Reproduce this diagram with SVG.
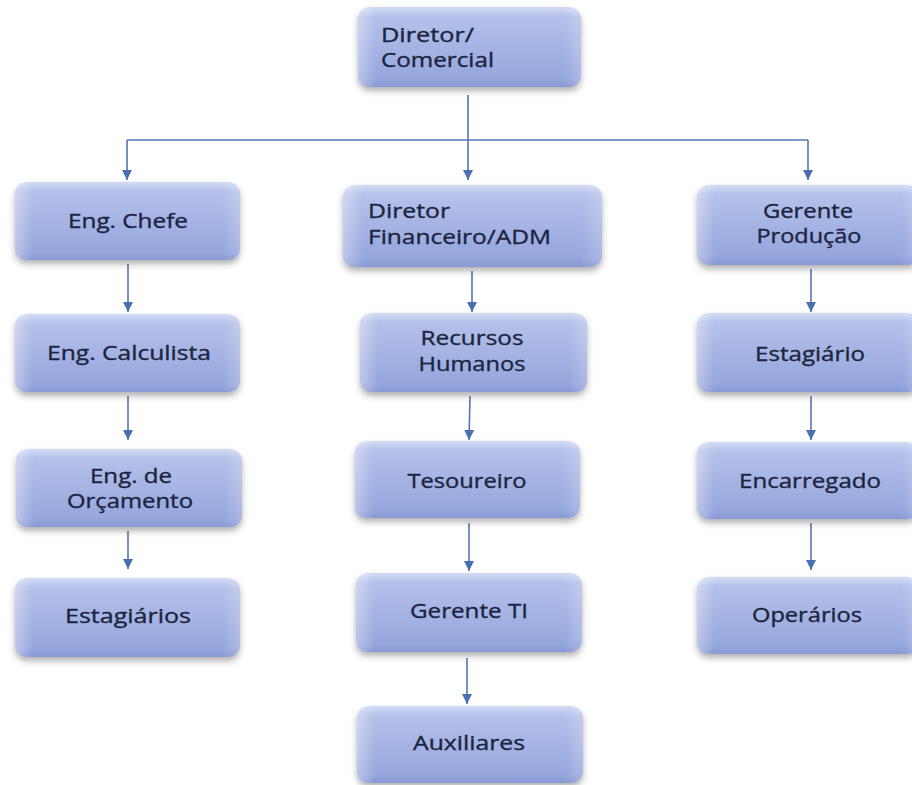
<svg xmlns="http://www.w3.org/2000/svg" width="912" height="785" viewBox="0 0 912 785">
<defs>
  <linearGradient id="gV" x1="0" y1="0" x2="0" y2="1">
    <stop offset="0" stop-color="#d3dbf4"/>
    <stop offset="0.12" stop-color="#b5c1ea"/>
    <stop offset="0.55" stop-color="#a4b2e3"/>
    <stop offset="0.9" stop-color="#95a6dd"/>
    <stop offset="1" stop-color="#8899d4"/>
  </linearGradient>
  <linearGradient id="gH" x1="0" y1="0" x2="1" y2="0">
    <stop offset="0" stop-color="#ffffff" stop-opacity="0.35"/>
    <stop offset="0.08" stop-color="#ffffff" stop-opacity="0"/>
    <stop offset="0.92" stop-color="#ffffff" stop-opacity="0"/>
    <stop offset="1" stop-color="#ffffff" stop-opacity="0.2"/>
  </linearGradient>
  <filter id="sh" x="-10%" y="-10%" width="120%" height="135%">
    <feDropShadow dx="0" dy="4" stdDeviation="3" flood-color="#404040" flood-opacity="0.4"/>
  </filter>
  <marker id="ar" viewBox="0 0 10 10" refX="10" refY="5" markerWidth="10" markerHeight="10" markerUnits="userSpaceOnUse" orient="auto">
    <path d="M0,0 L10,5 L0,10 z" fill="#4a6fb3"/>
  </marker>
</defs>
<style>
  .box { fill: url(#gV); filter: url(#sh); }
  .hl { fill: url(#gH); }
  .t { font-family: "Open Sans", "Noto Sans", sans-serif; font-size: 20px; fill: #1b2440; stroke: #1b2440; stroke-width: 0.35; }
  .c { text-anchor: middle; }
  .ln { fill: none; stroke: #5676b0; stroke-width: 1.6; }
</style>
<rect width="912" height="785" fill="#ffffff"/>

<g id="connectors">
  <path class="ln" d="M468,95 V180" marker-end="url(#ar)"/>
  <path class="ln" d="M127,140 H808"/>
  <path class="ln" d="M127,140 V180" marker-end="url(#ar)"/>
  <path class="ln" d="M808,140 V180" marker-end="url(#ar)"/>
  <path class="ln" d="M128,264 V312" marker-end="url(#ar)"/>
  <path class="ln" d="M128,396 V440" marker-end="url(#ar)"/>
  <path class="ln" d="M128,531 V569" marker-end="url(#ar)"/>
  <path class="ln" d="M472,271 V312" marker-end="url(#ar)"/>
  <path class="ln" d="M470,396 L469,440" marker-end="url(#ar)"/>
  <path class="ln" d="M469,523 V571" marker-end="url(#ar)"/>
  <path class="ln" d="M467,658 V704" marker-end="url(#ar)"/>
  <path class="ln" d="M811,269 V312" marker-end="url(#ar)"/>
  <path class="ln" d="M811,396 V440" marker-end="url(#ar)"/>
  <path class="ln" d="M811,523 V570" marker-end="url(#ar)"/>
</g>

<g id="n-diretor-comercial">
  <rect class="box" x="358" y="7" width="223" height="80" rx="12"/>
  <rect class="hl" x="358" y="7" width="223" height="80" rx="12"/>
  <text class="t" x="381" y="42" textLength="93" lengthAdjust="spacingAndGlyphs">Diretor/</text>
  <text class="t" x="381" y="67" textLength="113" lengthAdjust="spacingAndGlyphs">Comercial</text>
</g>

<g id="n-eng-chefe">
  <rect class="box" x="15" y="182" width="225" height="78" rx="12"/>
  <rect class="hl" x="15" y="182" width="225" height="78" rx="12"/>
  <text class="t c" x="128" y="228" textLength="120" lengthAdjust="spacingAndGlyphs">Eng. Chefe</text>
</g>

<g id="n-diretor-financeiro">
  <rect class="box" x="343" y="185" width="259" height="82" rx="12"/>
  <rect class="hl" x="343" y="185" width="259" height="82" rx="12"/>
  <text class="t" x="368" y="218" textLength="82" lengthAdjust="spacingAndGlyphs">Diretor</text>
  <text class="t" x="368" y="244" textLength="183" lengthAdjust="spacingAndGlyphs">Financeiro/ADM</text>
</g>

<g id="n-gerente-producao">
  <rect class="box" x="697" y="185" width="222" height="80" rx="12"/>
  <rect class="hl" x="697" y="185" width="222" height="80" rx="12"/>
  <text class="t c" x="808" y="218" textLength="90" lengthAdjust="spacingAndGlyphs">Gerente</text>
  <text class="t c" x="809" y="243" textLength="105" lengthAdjust="spacingAndGlyphs">Produção</text>
</g>

<g id="n-eng-calculista">
  <rect class="box" x="15" y="314" width="225" height="78" rx="12"/>
  <rect class="hl" x="15" y="314" width="225" height="78" rx="12"/>
  <text class="t c" x="129" y="360" textLength="164" lengthAdjust="spacingAndGlyphs">Eng. Calculista</text>
</g>

<g id="n-recursos-humanos">
  <rect class="box" x="360" y="313" width="227" height="79" rx="12"/>
  <rect class="hl" x="360" y="313" width="227" height="79" rx="12"/>
  <text class="t c" x="472" y="345" textLength="103" lengthAdjust="spacingAndGlyphs">Recursos</text>
  <text class="t c" x="472" y="371" textLength="107" lengthAdjust="spacingAndGlyphs">Humanos</text>
</g>

<g id="n-estagiario">
  <rect class="box" x="697" y="313" width="222" height="79" rx="12"/>
  <rect class="hl" x="697" y="313" width="222" height="79" rx="12"/>
  <text class="t c" x="810" y="361" textLength="110" lengthAdjust="spacingAndGlyphs">Estagiário</text>
</g>

<g id="n-eng-orcamento">
  <rect class="box" x="16" y="449" width="226" height="78" rx="12"/>
  <rect class="hl" x="16" y="449" width="226" height="78" rx="12"/>
  <text class="t c" x="131" y="483" textLength="82" lengthAdjust="spacingAndGlyphs">Eng. de</text>
  <text class="t c" x="130" y="508" textLength="126" lengthAdjust="spacingAndGlyphs">Orçamento</text>
</g>

<g id="n-tesoureiro">
  <rect class="box" x="355" y="441" width="225" height="77" rx="12"/>
  <rect class="hl" x="355" y="441" width="225" height="77" rx="12"/>
  <text class="t c" x="467" y="488" textLength="119" lengthAdjust="spacingAndGlyphs">Tesoureiro</text>
</g>

<g id="n-encarregado">
  <rect class="box" x="697" y="442" width="222" height="77" rx="12"/>
  <rect class="hl" x="697" y="442" width="222" height="77" rx="12"/>
  <text class="t c" x="810" y="488" textLength="142" lengthAdjust="spacingAndGlyphs">Encarregado</text>
</g>

<g id="n-estagiarios">
  <rect class="box" x="15" y="578" width="225" height="79" rx="12"/>
  <rect class="hl" x="15" y="578" width="225" height="79" rx="12"/>
  <text class="t c" x="128" y="623" textLength="126" lengthAdjust="spacingAndGlyphs">Estagiários</text>
</g>

<g id="n-gerente-ti">
  <rect class="box" x="356" y="573" width="226" height="79" rx="12"/>
  <rect class="hl" x="356" y="573" width="226" height="79" rx="12"/>
  <text class="t c" x="469" y="618" textLength="118" lengthAdjust="spacingAndGlyphs">Gerente TI</text>
</g>

<g id="n-operarios">
  <rect class="box" x="697" y="577" width="222" height="77" rx="12"/>
  <rect class="hl" x="697" y="577" width="222" height="77" rx="12"/>
  <text class="t c" x="807" y="622" textLength="110" lengthAdjust="spacingAndGlyphs">Operários</text>
</g>

<g id="n-auxiliares">
  <rect class="box" x="357" y="706" width="226" height="77" rx="12"/>
  <rect class="hl" x="357" y="706" width="226" height="77" rx="12"/>
  <text class="t c" x="469" y="750" textLength="112" lengthAdjust="spacingAndGlyphs">Auxiliares</text>
</g>
</svg>
